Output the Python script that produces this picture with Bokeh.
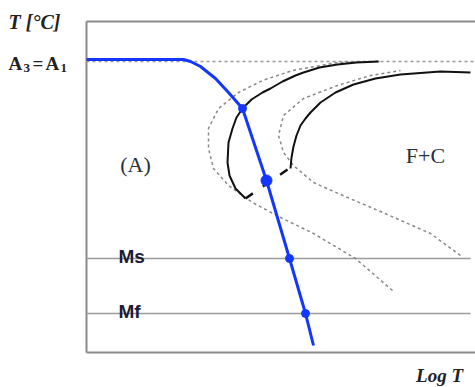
from bokeh.plotting import figure
from bokeh.models import Range1d
from bokeh.core.properties import value
from bokeh.embed import file_html
from bokeh.resources import INLINE

# --- schematic CCT diagram data (x = log time units, y = temperature units) ---
# cooling curve (blue)
cool_x = [0, 97, 104, 114, 129, 142, 156, 180, 203, 219, 227]
cool_y = [293, 293, 291, 286, 274, 260, 244, 172, 94, 39, 7]
# intersection points on the cooling curve
pts_x = [156, 203, 219]
pts_y = [244, 94, 39]
big_x = [180]
big_y = [172]
# transformation start curve (black)
start_x = [159, 149, 143, 141, 142, 146, 150, 156, 165, 176, 184, 196, 209, 217, 233, 251, 270, 292]
start_y = [154, 164, 177, 190, 210, 224, 235, 244, 253, 260, 264, 271, 277, 280, 285, 288, 290, 291]
# transformation finish curve (black)
finish_x = [204, 205, 207, 210, 214, 219, 224, 234, 249, 267, 289, 314, 354, 384]
finish_y = [184, 195, 206, 217, 227, 234, 240, 250, 260, 268, 274, 278, 281, 280]
# dashed connection between start and finish
conn_x = [159, 204]
conn_y = [154, 185]
# dotted reference curves (grey)
dot1_x = [306, 269, 227, 194, 166, 142, 127, 122, 122, 132, 152, 176, 206, 251, 294]
dot1_y = [62, 94, 119, 135, 150, 167, 184, 204, 224, 244, 260, 272, 282, 290, 291]
dot2_x = [374, 344, 294, 261, 227, 207, 197, 192, 197, 217, 251, 284, 314]
dot2_y = [97, 119, 141, 155, 170, 187, 200, 217, 237, 254, 267, 277, 282]
# characteristic temperatures
A3 = 291
Ms = 94
Mf = 39
T_TOP = 331
X_END = 389
X_MS_END = 384

W, H = 475, 387
p = figure(width=W, height=H, output_backend="svg", toolbar_location=None,
           x_range=Range1d(-86, 389), y_range=Range1d(-35, 352),
           min_border=0, outline_line_color=None)
p.axis.visible = False
p.grid.visible = False
p.background_fill_color = "white"
p.border_fill_color = "white"

frame_col = "#8a8a8a"
# frame
p.line([0, 0], [0, T_TOP], line_color=frame_col, line_width=2)
p.line([0, X_END], [0, 0], line_color=frame_col, line_width=2)
p.line([0, X_END], [T_TOP, T_TOP], line_color=frame_col, line_width=2)
# Ms, Mf lines
p.line([0, X_MS_END], [Ms, Ms], line_color="#9a9a9a", line_width=1.5)
p.line([0, X_MS_END], [Mf, Mf], line_color="#9a9a9a", line_width=1.5)
# A3 dotted
p.line([0, X_END], [A3, A3], line_color="#999999", line_width=1.5, line_dash="3 3")
# dotted curves
p.line(dot1_x, dot1_y, line_color="#888888", line_width=1.5, line_dash="3 3")
p.line(dot2_x, dot2_y, line_color="#888888", line_width=1.5, line_dash="3 3")
# black curves
p.line(start_x, start_y, line_color="#111111", line_width=2, line_join="round")
p.line(finish_x, finish_y, line_color="#111111", line_width=2, line_join="round")
p.line(conn_x, conn_y, line_color="#111111", line_width=2.5, line_dash="9 12")
# cooling curve
blue = "#1437ff"
p.line(cool_x, cool_y, line_color=blue, line_width=3, line_join="round")
p.scatter(pts_x, pts_y, size=8, color=blue)
p.scatter(big_x, big_y, size=11, color=blue)

serif = value("Liberation Serif")
sans = value("Liberation Sans")

p.text(x=[-78], y=[331], text=["T [°C]"], text_font=serif, text_font_size=value("20px"),
       text_font_style="bold italic", text_align="left", text_baseline="middle", text_color="#222222")
# A3=A1 with subscripts
p.text(x=[-78, -41], y=[289, 289], text=["A", "A"], text_font=serif, text_font_size=value("19px"),
       text_font_style="bold", text_align="left", text_baseline="alphabetic", text_color="#222222")
p.text(x=[-54], y=[289], text=["="], text_font=serif, text_font_size=value("19px"),
       text_font_style="bold", text_align="left", text_baseline="alphabetic", text_color="#222222")
p.text(x=[-63, -26], y=[285, 285], text=["3", "1"], text_font=serif, text_font_size=value("13px"),
       text_font_style="bold", text_align="left", text_baseline="alphabetic", text_color="#222222")
p.text(x=[32, 32], y=[96, 41], text=["Ms", "Mf"], text_font=sans, text_font_size=value("19px"),
       text_font_style="bold", text_align="left", text_baseline="alphabetic", text_color="#1c1c38")
p.text(x=[49, 339], y=[188, 197], text=["(A)", "F+C"], text_font=serif, text_font_size=value("22px"),
       text_align="center", text_baseline="middle", text_color="#2a2f3a")
p.text(x=[353], y=[-23], text=["Log T"], text_font=serif, text_font_size=value("19px"),
       text_font_style="bold italic", text_align="center", text_baseline="middle", text_color="#222222")

open("out.html", "w").write(file_html(p, INLINE))
